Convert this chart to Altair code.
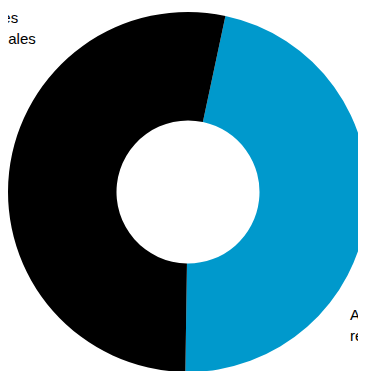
import math
import altair as alt
import pandas as pd

# Data
categories = ["Aportes regionales", "Fuentes nacionales"]
values = [46.9, 53.1]
label_lines = [["Aportes", "regionales"], ["Fuentes", "nacionales", "propio"]]
colors = ["#0099cc", "#000000"]

df = pd.DataFrame({
    "categoria": categories,
    "valor": values,
    "orden": list(range(len(categories))),
    "etiqueta": label_lines,
})

start = math.radians(12)
theta_scale = alt.Scale(range=[start, start + 2 * math.pi])
color_scale = alt.Scale(domain=categories, range=colors)

CX, CY = 180, 184

arcs = alt.Chart(df).mark_arc(
    innerRadius=71.5, outerRadius=180, x=CX, y=CY, stroke=None
).encode(
    theta=alt.Theta("valor:Q", stack=True, scale=theta_scale),
    color=alt.Color("categoria:N", scale=color_scale, legend=None),
    order=alt.Order("orden:Q"),
)

text_common = dict(align="left", baseline="alphabetic", fontSize=15,
                   lineHeight=20.5, font="Liberation Sans", color="#000000")

label_blue = alt.Chart(df).transform_filter(
    alt.datum.categoria == categories[0]
).mark_text(x=342, y=312, **text_common).encode(text="etiqueta")

label_black = alt.Chart(df).transform_filter(
    alt.datum.categoria == categories[1]
).mark_text(x=-44, y=15, **text_common).encode(text="etiqueta")

chart = alt.layer(arcs, label_blue, label_black).properties(
    width=350, height=363, autosize="none", padding=0
).configure_view(stroke=None)

chart.save("out.html", embed_options={"renderer": "svg", "actions": False})
